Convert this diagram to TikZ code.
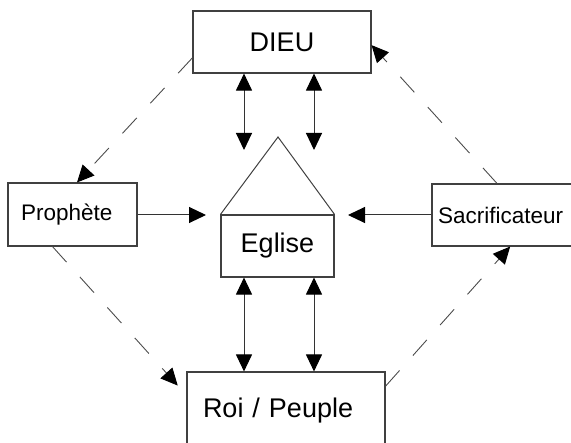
\documentclass[tikz,border=0pt]{standalone}
\usepackage{fontspec}
\setmainfont{Liberation Sans}
\usetikzlibrary{arrows.meta}

\begin{document}
\begin{tikzpicture}[x=1pt, y=-1pt,
    box/.style ={rectangle, draw=black!75, line width=1.1pt, inner ysep=0pt,
                 minimum height=62pt, font=\fontsize{27}{30}\selectfont},
    sidebox/.style ={box, align=left, font=\fontsize{22.5}{25}\selectfont},
    link/.style ={draw=black!80, line width=1pt, -{Triangle[length=17pt,width=16pt,color=black]}},
    twoway/.style ={link, {Triangle[length=17pt,width=16pt,color=black]}-{Triangle[length=17pt,width=16pt,color=black]}},
    hint/.style ={link, draw=black!70, line width=0.9pt, dash pattern=on 21pt off 20pt}]
   \useasboundingbox (0,0) rectangle (571,443);
   \clip (0,0) rectangle (571,443);
   % boxes
   \node[box, minimum width=178pt] (dieu) at (282,42) {DIEU};
   \node[box, minimum width=113pt] (eglise) at (277.5,246) {Eglise};
   \node[box, align=left, text width=166pt, inner xsep=16pt, minimum height=78pt] (roi) at (286,411) {Roi / Peuple};
   \node[sidebox, text width=103pt, inner xsep=13pt, minimum height=63pt] (proph) at (72.5,214.5) {Prophète};
   \node[sidebox, text width=141pt, inner xsep=6pt] (sacr) at (508.5,215) {Sacrificateur};
   % roof
   \coordinate (roof) at (278,137);
   \draw[draw=black!75, line width=1pt] (eglise.north west) -- (roof) -- (eglise.north east);
   % free ends
   \coordinate (upA) at (244,150);
   \coordinate (upB) at (314,150);
   \coordinate (inL) at (206,215);
   \coordinate (inR) at (348,215);
   % arrows
   \draw[twoway] (dieu.south -| upA) to (upA);
   \draw[twoway] (dieu.south -| upB) to (upB);
   \draw[twoway] (eglise.south -| upA) to (roi.north -| upA);
   \draw[twoway] (eglise.south -| upB) to (roi.north -| upB);
   \draw[link] (proph.east |- inL) to (inL);
   \draw[link] (sacr.west |- inR) to (inR);
   % dashed
   \draw[hint] (dieu.190) to (proph.82);
   \draw[hint] (sacr.110) to (dieu.-2);
   \draw[hint, shorten >=13pt] (proph.238) to (roi.171);
   \draw[hint] (roi.14) to (sacr.-87);
 \end{tikzpicture}
\end{document}
